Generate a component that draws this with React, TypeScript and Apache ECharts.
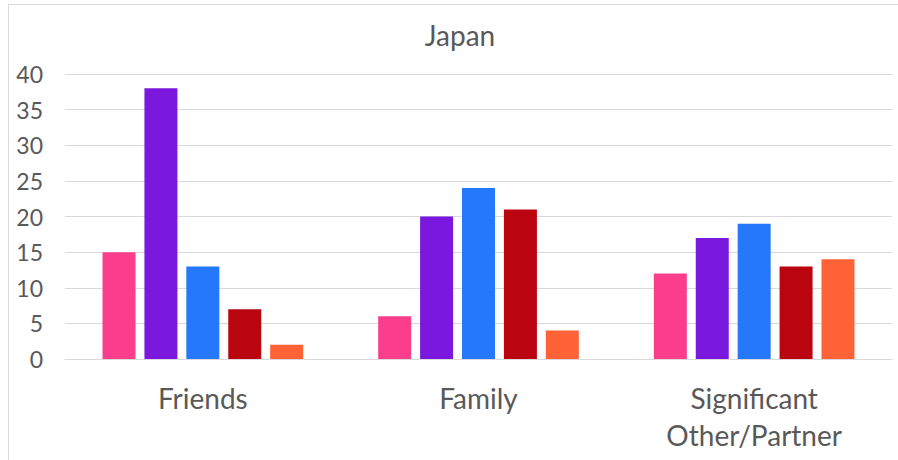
import React, { useEffect, useRef } from "react";
import * as echarts from "echarts";

const categories = ["Friends", "Family", "Significant\nOther/Partner"];
const seriesNames = ["Series 1", "Series 2", "Series 3", "Series 4", "Series 5"];
const s1 = [15, 6, 12];
const s2 = [38, 20, 17];
const s3 = [13, 24, 19];
const s4 = [7, 21, 13];
const s5 = [2, 4, 14];
const seriesData = [s1, s2, s3, s4, s5];
const colors = ["#FA3E8C", "#7A19DD", "#2678FB", "#BA040F", "#FF6236"];
const FONT = "Lato";

export default function App() {
  const ref = useRef<HTMLDivElement>(null);
  useEffect(() => {
    const chart = echarts.init(ref.current!, undefined, { renderer: "svg" });
    chart.setOption({
      animation: false,
      backgroundColor: "#ffffff",
      title: {
        text: "Japan",
        left: 455,
        top: 16,
        textAlign: "center",
        textStyle: { fontFamily: FONT, fontSize: 28, fontWeight: "normal", color: "#595959" },
      },
      grid: { left: 65, right: 6, top: 74, bottom: 101, containLabel: false },
      xAxis: {
        type: "category",
        data: categories,
        axisLine: { show: true, lineStyle: { color: "#d9d9d9", width: 1 } },
        axisTick: { show: false },
        axisLabel: {
          fontFamily: FONT,
          fontSize: 28,
          color: "#595959",
          margin: 20,
          lineHeight: 37,
          interval: 0,
        },
      },
      yAxis: {
        type: "value",
        min: 0,
        max: 40,
        interval: 5,
        axisLine: { show: false },
        axisTick: { show: false },
        splitLine: { lineStyle: { color: "#d9d9d9", width: 1 } },
        axisLabel: { fontFamily: FONT, fontSize: 23, color: "#595959", margin: 22 },
      },
      series: seriesData.map((d, i) => ({
        name: seriesNames[i],
        type: "bar",
        data: d,
        barWidth: 33,
        barGap: "27%",
        itemStyle: { color: colors[i] },
      })),
      graphic: [
        { type: "line", shape: { x1: 8, y1: 4.5, x2: 898, y2: 4.5 }, style: { stroke: "#d9d9d9", lineWidth: 1 } },
        { type: "line", shape: { x1: 8.5, y1: 4, x2: 8.5, y2: 460 }, style: { stroke: "#d9d9d9", lineWidth: 1 } },
      ],
    });
    return () => chart.dispose();
  }, []);
  return (
    <div
      ref={ref}
      style={{ position: "fixed", left: 0, top: 0, width: 898, height: 460 }}
    />
  );
}
